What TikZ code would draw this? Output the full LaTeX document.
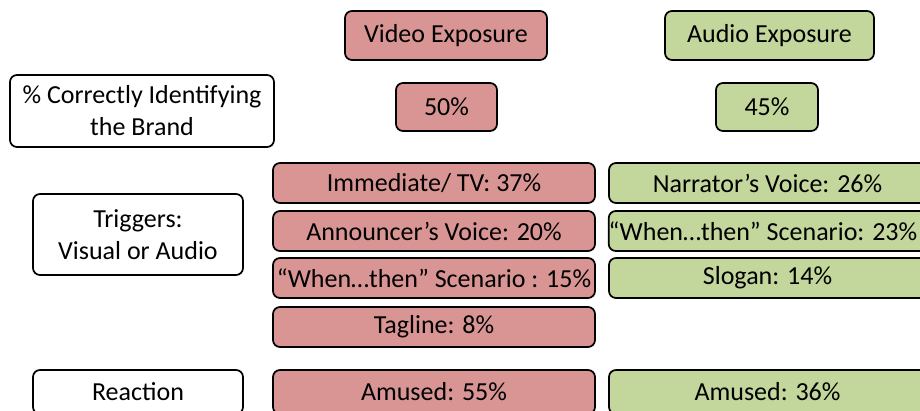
\documentclass[tikz,border=0pt]{standalone}
\usepackage{fontspec}
\setmainfont{Carlito}
\definecolor{vred}{HTML}{D99594}
\definecolor{agreen}{HTML}{C3D69B}
\tikzset{
  box/.style={draw=black, line width=1.7pt, rounded corners=7pt, inner sep=0pt,
    font=\fontsize{26}{32}\selectfont, align=center, text=black},
  vbox/.style={box, fill=vred},
  abox/.style={box, fill=agreen},
  wbox/.style={box, fill=white},
}
\begin{document}
\begin{tikzpicture}[x=1pt,y=-1pt]
\useasboundingbox (0,0) rectangle (920,410);
\clip (0,0) rectangle (920,410);
\fill[white] (0,0) rectangle (920,410);
% headers
\node[vbox, minimum width=202pt, minimum height=49pt] (vexp) at (446,35.5) {Video Exposure};
\node[abox, minimum width=209pt, minimum height=49pt] (aexp) at (769.5,35.5) {Audio Exposure};
% brand row
\node[wbox, minimum width=264pt, minimum height=72pt] (pct) at (142,111) {\% Correctly Identifying\\the Brand};
\node[vbox, minimum width=101pt, minimum height=48pt] (v50) at (446.5,107) {50\%};
\node[abox, minimum width=102pt, minimum height=48pt] (a45) at (767,107) {45\%};
% triggers
\node[wbox, minimum width=210pt, minimum height=81pt] (trig) at (138,234.5) {Triggers:\\Visual or Audio};
\node[vbox, minimum width=322pt, minimum height=40pt] (v1) at (434,183) {Immediate/ TV: 37\%};
\node[vbox, minimum width=322pt, minimum height=40pt] (v2) at (434,231) {Announcer’s Voice: 20\%};
\node[vbox, minimum width=322pt, minimum height=40pt] (v3) at (434,278) {“When…then” Scenario : 15\%};
\node[vbox, minimum width=322pt, minimum height=40pt] (v4) at (434,327) {Tagline: 8\%};
\node[abox, minimum width=322pt, minimum height=40pt] (a1) at (770,183) {Narrator’s Voice: 26\%\kern5pt};
\node[abox, minimum width=322pt, minimum height=40pt] (a2) at (770,231) {“When…then” Scenario: 23\%\kern14pt};
\node[abox, minimum width=322pt, minimum height=40pt] (a3) at (770,278) {Slogan: 14\%\kern5pt};
% reaction
\node[wbox, minimum width=210pt, minimum height=44pt] (react) at (138,392) {Reaction};
\node[vbox, minimum width=322pt, minimum height=44pt] (vam) at (434,392) {Amused: 55\%};
\node[abox, minimum width=322pt, minimum height=44pt] (aam) at (770,392) {Amused: 36\%\kern5pt};
\end{tikzpicture}
\end{document}
